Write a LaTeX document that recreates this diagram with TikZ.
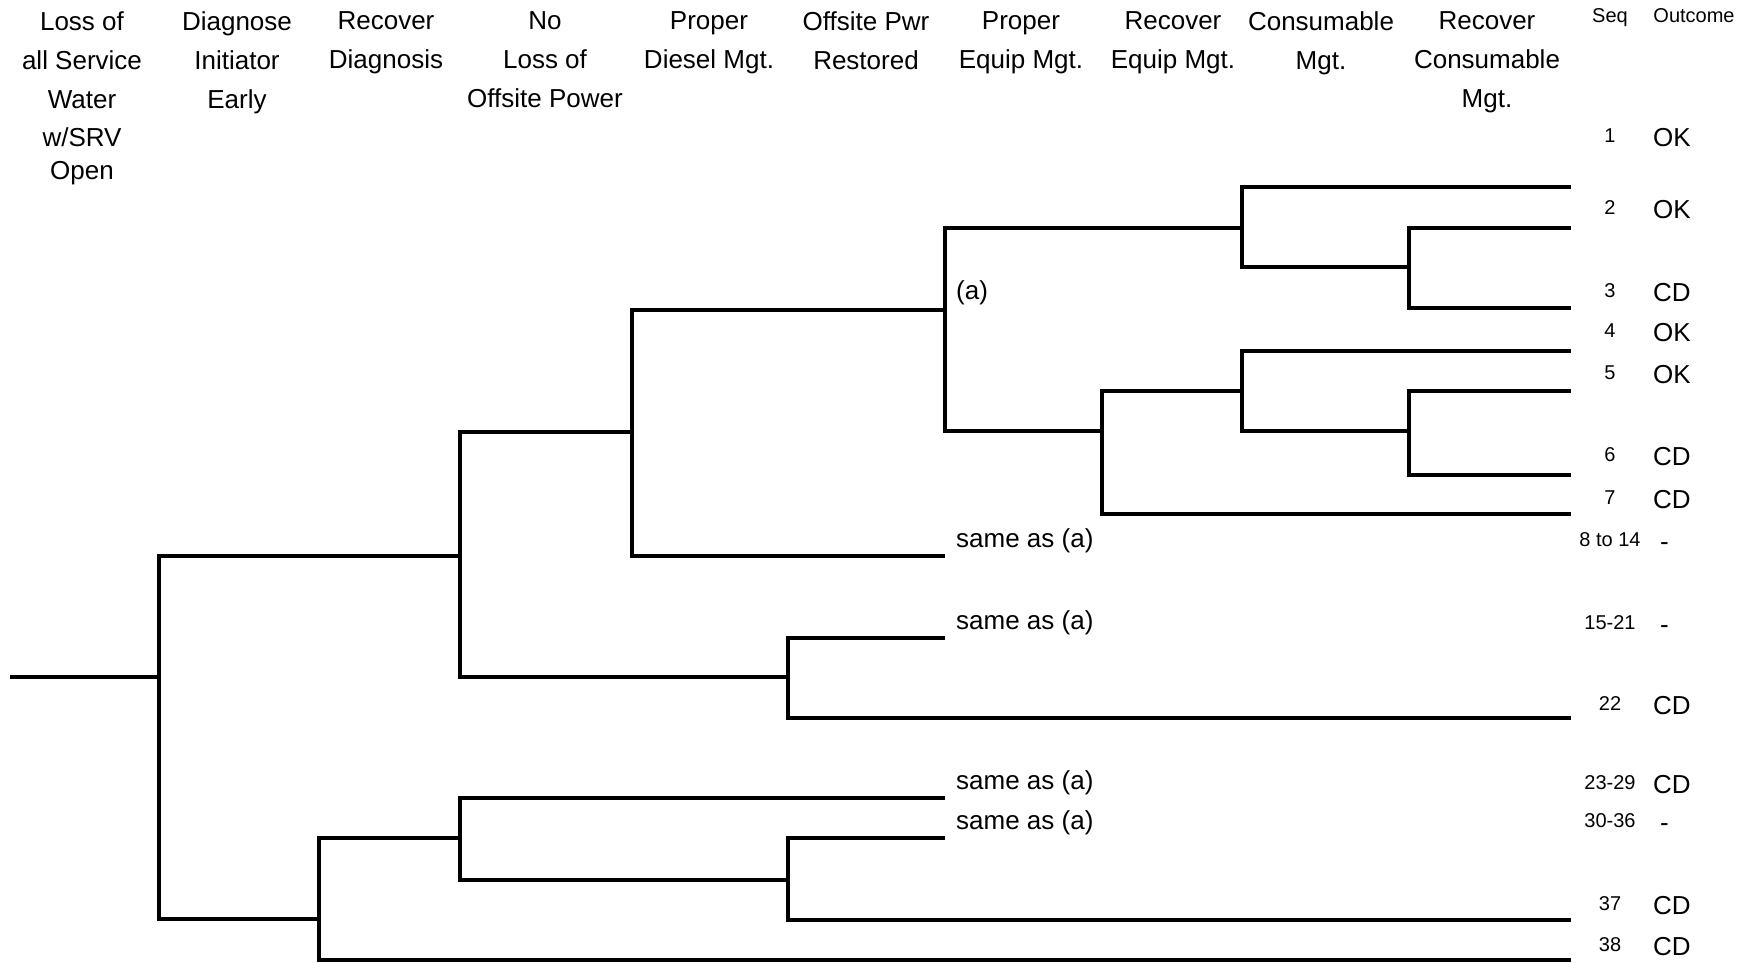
\documentclass[tikz,border=0pt]{standalone}
\usepackage{fontspec}
\setmainfont{Liberation Sans}
\newcommand\nooutcome{\hspace*{7pt}-}

\tikzset{
	branch/.style={line width=3.2pt},
	head/.style={anchor=north, align=center, inner sep=0pt, font=\fontsize{26}{39}\selectfont},
	colhead/.style={anchor=north, inner sep=0pt, font=\fontsize{20}{24}\selectfont},
	seqno/.style={anchor=north, inner sep=0pt, text height=14.3pt, font=\fontsize{20}{24}\selectfont},
	result/.style={anchor=north west, inner sep=0pt, text height=18.6pt, font=\fontsize{26}{30}\selectfont},
	note/.style={anchor=west, inner sep=0pt, font=\fontsize{26}{30}\selectfont}
}

\begin{document}
\begin{tikzpicture}[x=1pt, y=-1pt]
	\useasboundingbox (0,0) rectangle (1754,963);
	
	%%%%% HEADINGS %%%%%
	\node[head] (h1) at (82,11) {Loss of\\all Service\\Water\\[-1pt]w/SRV\\[-5.5pt]Open};
	\node[head] (h2) at (237,11) {Diagnose\\Initiator\\Early};
	\node[head] (h3) at (386,11) {Recover\\Diagnosis};
	\node[head] (h4) at (545,11) {No\\Loss of\\Offsite Power};
	\node[head] (h5) at (709,11) {Proper\\Diesel Mgt.};
	\node[head] (h6) at (866,11) {Offsite Pwr\\Restored};
	\node[head] (h7) at (1021,11) {Proper\\Equip Mgt.};
	\node[head] (h8) at (1173,11) {Recover\\Equip Mgt.};
	\node[head] (h9) at (1321,11) {Consumable\\Mgt.};
	\node[head] (h10) at (1487,11) {Recover\\Consumable\\Mgt.};
	\node[colhead] (hseq) at (1610,8) {Seq};
	\node[colhead] (hout) at (1694,8) {Outcome};
	
	%%%%% BRANCH POINTS %%%%%
	\coordinate (r0) at (10,677);
	\coordinate (r1) at (159,677);
	\coordinate (a) at (460,556);
	\coordinate (b) at (319,919);
	\coordinate (c) at (632,432);
	\coordinate (d) at (788,677);
	\coordinate (e) at (945,310);
	\coordinate (f) at (1242,228);
	\coordinate (g) at (1102,431);
	\coordinate (h) at (1409,267);
	\coordinate (i) at (1242,391);
	\coordinate (j) at (1409,431);
	\coordinate (k) at (460,838);
	\coordinate (m) at (788,880);
	
	% ends of the branches
	\coordinate (l1) at (1571,187);
	\coordinate (l2) at (1571,228);
	\coordinate (l3) at (1571,308);
	\coordinate (l4) at (1571,351);
	\coordinate (l5) at (1571,391);
	\coordinate (l6) at (1571,475);
	\coordinate (l7) at (1571,514);
	\coordinate (l22) at (1571,718);
	\coordinate (l37) at (1571,920);
	\coordinate (l38) at (1571,960);
	\coordinate (s1) at (945,556);
	\coordinate (s2) at (945,638);
	\coordinate (s3) at (945,798);
	\coordinate (s4) at (945,838);
	
	%%%%% TREE %%%%%
	\draw[branch] (r0) -- (r1);
	\draw[branch] (r1) |- (a);
	\draw[branch] (r1) |- (b);
	\draw[branch] (a) |- (c);
	\draw[branch] (a) |- (d);
	\draw[branch] (c) |- (e);
	\draw[branch] (c) |- (s1);
	\draw[branch] (e) |- (f);
	\draw[branch] (e) |- (g);
	\draw[branch] (f) |- (l1);
	\draw[branch] (f) |- (h);
	\draw[branch] (h) |- (l2);
	\draw[branch] (h) |- (l3);
	\draw[branch] (g) |- (i);
	\draw[branch] (g) |- (l7);
	\draw[branch] (i) |- (l4);
	\draw[branch] (i) |- (j);
	\draw[branch] (j) |- (l5);
	\draw[branch] (j) |- (l6);
	\draw[branch] (d) |- (s2);
	\draw[branch] (d) |- (l22);
	\draw[branch] (b) |- (k);
	\draw[branch] (b) |- (l38);
	\draw[branch] (k) |- (s3);
	\draw[branch] (k) |- (m);
	\draw[branch] (m) |- (s4);
	\draw[branch] (m) |- (l37);
	
	\node[note] (tagA) at (956,293) {(a)};
	\node[note] (same1) at (956,541) {same as (a)};
	\node[note] (same2) at (956,623) {same as (a)};
	\node[note] (same3) at (956,783) {same as (a)};
	\node[note] (same4) at (956,823) {same as (a)};
	
	%%%%% SEQUENCES %%%%%
	\foreach \t/\s/\o [count=\n] in {128/1/OK, 200/2/OK, 283/3/CD, 323/4/OK,
		365/5/OK, 447/6/CD, 490/7/CD, 532/8 to 14/\nooutcome, 615/15-21/\nooutcome,
		696/22/CD, 775/23-29/CD, 813/30-36/\nooutcome, 896/37/CD, 937/38/CD}{
		\node[seqno] (seq\n) at (1610,\t) {\s};
		\node[result] (out\n) at (1653,\t) {\o};
	}
\end{tikzpicture}
\end{document}
